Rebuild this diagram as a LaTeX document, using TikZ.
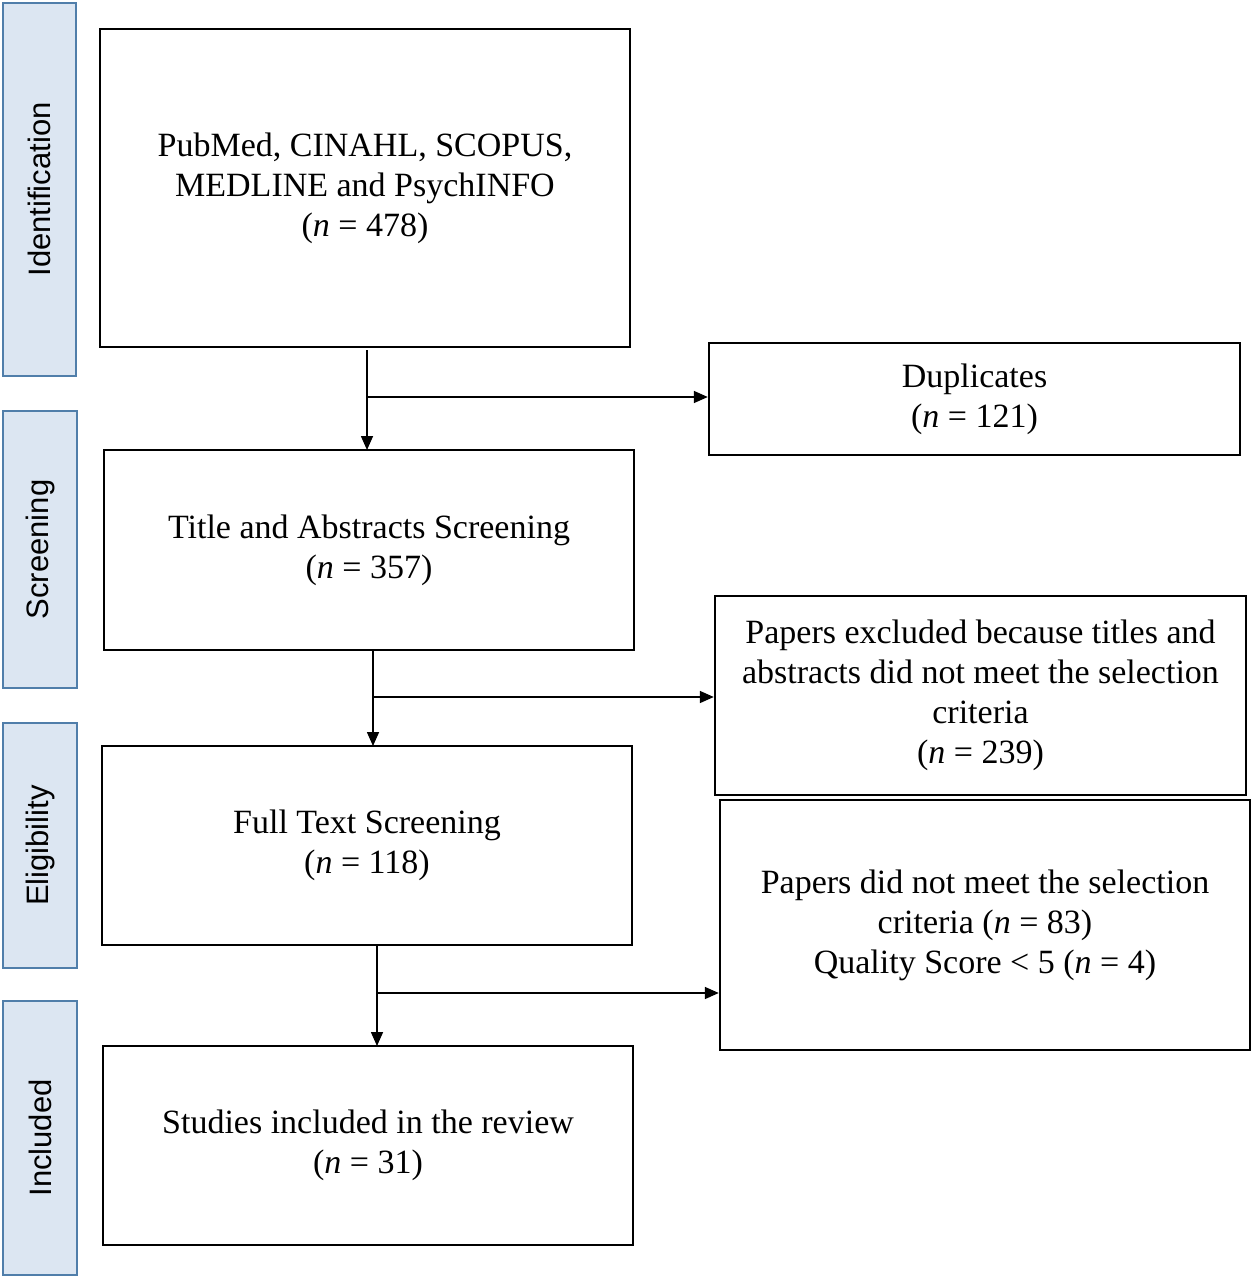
\documentclass[tikz,border=0pt]{standalone}
\usepackage{fontspec}
\setmainfont{Liberation Serif}
\newfontfamily\sidefont{Liberation Sans}
\usetikzlibrary{arrows.meta}
\definecolor{sidefill}{RGB}{220,230,242}
\definecolor{sidedraw}{RGB}{80,126,170}
\begin{document}
\begin{tikzpicture}[x=0.5pt,y=-0.5pt,
  box/.style={draw,line width=1.2pt,align=center,inner sep=0pt,font=\fontsize{17}{20}\selectfont},
  side/.style={draw=sidedraw,fill=sidefill,line width=1.2pt,inner sep=0pt},
  sidetxt/.style={rotate=90,font=\sidefont\fontsize{15.5}{17}\selectfont},
  arr/.style={line width=0.8pt,-{Triangle[length=7pt,width=6pt]}}]
\useasboundingbox (0,0) rectangle (1254,1280);
\newcommand{\bx}[6]{\node[#6,minimum width=#4*0.5pt-1.2pt,minimum height=#5*0.5pt-1.2pt] (#1) at (#2,#3) {};}
% side labels
\bx{s1}{39.5}{189.5}{75}{375}{side}
\bx{s2}{40}{549.5}{76}{279}{side}
\bx{s3}{40}{845.5}{76}{247}{side}
\bx{s4}{40}{1138}{76}{276}{side}
\node[sidetxt] (t1) at (s1) {Identification};
\node[sidetxt] (t2) at (s2) {Screening};
\node[sidetxt] (t3) at (s3) {Eligibility};
\node[sidetxt] (t4) at (s4) {Included};
% boxes
\node[box,minimum width=265pt,minimum height=159pt] (b1) at (365,188) {PubMed, CINAHL, SCOPUS,\\MEDLINE and PsychINFO\\(\textit{n} = 478)};
\node[box,minimum width=265.5pt,minimum height=56pt] (d1) at (974.5,399) {Duplicates\\(\textit{n} = 121)};
\node[box,minimum width=265pt,minimum height=100pt] (b2) at (369,550) {Title and Abstracts Screening\\(\textit{n} = 357)};
\node[box,minimum width=265.5pt,minimum height=99.5pt] (d2) at (980.5,695.5) {Papers excluded because titles and\\abstracts did not meet the selection\\criteria\\(\textit{n} = 239)};
\node[box,minimum width=265pt,minimum height=99.5pt] (b3) at (367,845.5) {Full Text Screening\\(\textit{n} = 118)};
\node[box,minimum width=265pt,minimum height=125pt] (d3) at (985,925) {Papers did not meet the selection\\criteria (\textit{n} = 83)\\Quality Score < 5 (\textit{n} = 4)};
\node[box,minimum width=265pt,minimum height=99.5pt] (b4) at (368,1145.5) {Studies included in the review\\(\textit{n} = 31)};
% connectors
\coordinate (a1) at (367,350); \coordinate (a1e) at (367,450); \coordinate (h1) at (367,397);
\coordinate (a2) at (373,650); \coordinate (a2e) at (373,746); \coordinate (h2) at (373,697);
\coordinate (a3) at (377,945); \coordinate (a3e) at (377,1046); \coordinate (h3) at (377,993);
\draw[arr] (a1) -- (a1e);
\draw[arr] (h1) -- (h1 -| d1.west);
\draw[arr] (a2) -- (a2e);
\draw[arr] (h2) -- (h2 -| d2.west);
\draw[arr] (a3) -- (a3e);
\draw[arr] (h3) -- (h3 -| d3.west);
\end{tikzpicture}
\end{document}
